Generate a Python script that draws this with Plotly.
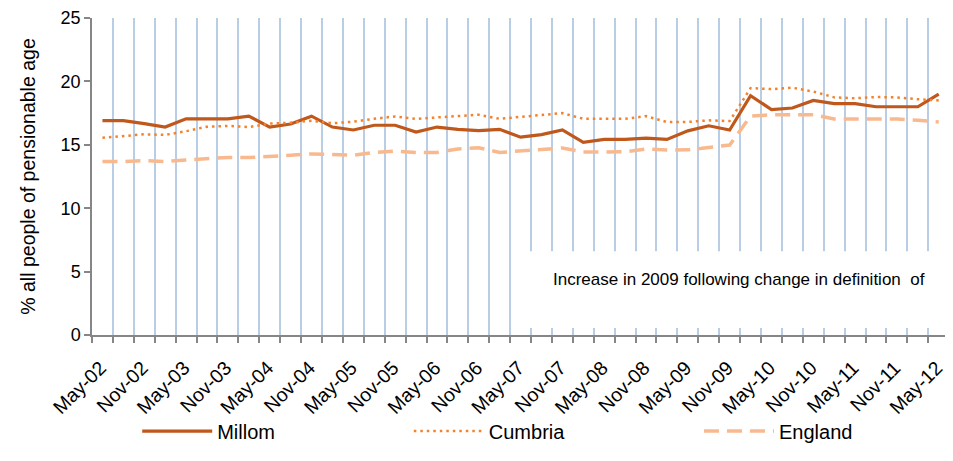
import plotly.graph_objects as go

months = ["May", "Aug", "Nov", "Feb"]
quarters = []
yr = 2
for i in range(41):
    m = months[i % 4]
    if m == "Feb":
        yr += 1
    quarters.append(f"{m}-{yr:02d}")

millom = [16.9, 16.9, 16.67, 16.4, 17.05, 17.05, 17.05, 17.26, 16.4, 16.64,
          17.26, 16.4, 16.17, 16.54, 16.54, 16.0, 16.4, 16.22, 16.12, 16.22,
          15.6, 15.8, 16.17, 15.19, 15.42, 15.42, 15.52, 15.42, 16.1, 16.5,
          16.17, 18.87, 17.78, 17.9, 18.5, 18.25, 18.25, 18.0, 18.0, 18.0, 19.0]
cumbria = [15.55, 15.7, 15.83, 15.78, 16.07, 16.43, 16.49, 16.4, 16.67, 16.74,
           16.9, 16.7, 16.82, 17.05, 17.24, 17.05, 17.16, 17.26, 17.37, 17.05,
           17.21, 17.37, 17.5, 17.05, 17.03, 17.05, 17.26, 16.8, 16.8, 16.93,
           16.87, 19.47, 19.39, 19.5, 19.2, 18.74, 18.67, 18.77, 18.74, 18.59, 18.5]
england = [13.68, 13.68, 13.76, 13.68, 13.81, 13.91, 14.0, 14.0, 14.07, 14.17,
           14.28, 14.2, 14.17, 14.4, 14.51, 14.4, 14.4, 14.67, 14.77, 14.4,
           14.51, 14.67, 14.75, 14.43, 14.45, 14.45, 14.67, 14.59, 14.6, 14.77,
           14.98, 17.26, 17.37, 17.37, 17.37, 17.03, 17.03, 17.03, 17.03, 16.93, 16.8]

x = list(range(len(quarters)))
tick_idx = x[::2]
tick_text = [quarters[i] for i in tick_idx]

FONT = "Arial, Liberation Sans, sans-serif"

fig = go.Figure()
fig.add_trace(go.Scatter(x=x, y=millom, name="Millom", mode="lines",
                         line=dict(color="#C0571B", width=3.2), legend="legend"))
fig.add_trace(go.Scatter(x=x, y=cumbria, name="Cumbria", mode="lines",
                         line=dict(color="#F5822A", width=2.5, dash="2.5px,4px"),
                         legend="legend2"))
fig.add_trace(go.Scatter(x=x, y=england, name="England", mode="lines",
                         line=dict(color="#F9B98F", width=3.5, dash="15px,8px"),
                         legend="legend3"))

fig.add_shape(type="rect", xref="x", yref="y", x0=20, x1=41, y0=0.55, y1=6.6,
              fillcolor="white", line=dict(width=0), layer="between")
fig.add_annotation(text="Increase in 2009 following change in definition  of",
                   xref="paper", yref="y", x=0.538, y=4.36, xanchor="left",
                   yanchor="middle", showarrow=False,
                   font=dict(family=FONT, size=17, color="#000000"))

leg_common = dict(orientation="h", yanchor="middle", xanchor="left",
                  font=dict(family=FONT, size=20, color="#000000"),
                  bgcolor="rgba(0,0,0,0)", itemwidth=70)
fig.update_layout(
    width=937, height=445,
    margin=dict(l=84, r=0, t=10, b=118, autoexpand=False),
    paper_bgcolor="white", plot_bgcolor="white",
    font=dict(family=FONT, size=18, color="#000000"),
    legend=dict(x=0.053, y=-0.303, **leg_common),
    legend2=dict(x=0.3714, y=-0.303, **leg_common),
    legend3=dict(x=0.7116, y=-0.303, **leg_common),
    xaxis=dict(range=[-0.5, 40.3], tickvals=tick_idx, ticktext=tick_text,
               tickangle=-45, ticks="", showgrid=False, zeroline=False,
               showline=True, linecolor="#868686", linewidth=1.5,
               automargin=False, ticklabeloverflow="allow",
               ticklabelstandoff=12, ticklabelshift=-2,
               tickfont=dict(family=FONT, size=19.5, color="#000000"),
               minor=dict(tick0=-0.5, dtick=1, ticks="outside", ticklen=6,
                          tickcolor="#868686", tickwidth=1.5, showgrid=True,
                          gridcolor="#B9CDE5", gridwidth=1.5)),
    yaxis=dict(range=[0, 25], dtick=5, ticks="outside", ticklen=6,
               tickcolor="#868686", tickwidth=1.5, showgrid=False, zeroline=False,
               showline=True, linecolor="#868686", linewidth=1.5,
               automargin=False, ticklabeloverflow="allow",
               tickfont=dict(family=FONT, size=18, color="#000000"),
               title=dict(text="% all people of pensionable age", standoff=20,
                          font=dict(family=FONT, size=19.5, color="#000000"))),
    showlegend=True,
)

fig.write_html("out.html")
